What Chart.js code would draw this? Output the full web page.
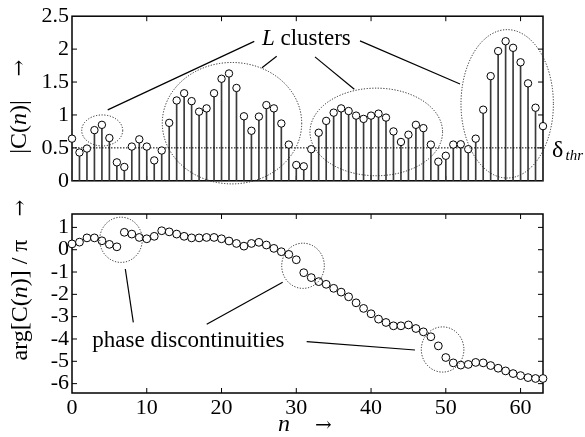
<!DOCTYPE html>
<html>
<head>
<meta charset="utf-8">
<script src="https://cdn.jsdelivr.net/npm/chart.js@4.4.0/dist/chart.umd.min.js"></script>
<style>
  html, body { margin: 0; padding: 0; background: #fff; }
  #wrap { position: relative; width: 585px; height: 437px; }
  canvas { position: absolute; left: 0; }
  #magCanvas { top: 0; }
  #phaseCanvas { top: 197px; }
</style>
</head>
<body>
<div id="wrap">
  <canvas id="magCanvas" width="585" height="197"></canvas>
  <canvas id="phaseCanvas" width="585" height="240"></canvas>
</div>
<script>
// sample index n
const nIdx = [0, 1, 2, 3, 4, 5, 6, 7, 8, 9, 10, 11, 12, 13, 14, 15,
  16, 17, 18, 19, 20, 21, 22, 23, 24, 25, 26, 27, 28, 29, 30, 31,
  32, 33, 34, 35, 36, 37, 38, 39, 40, 41, 42, 43, 44, 45, 46, 47,
  48, 49, 50, 51, 52, 53, 54, 55, 56, 57, 58, 59, 60, 61, 62, 63];

// |C(n)|
const magnitude = [0.64, 0.43, 0.49, 0.77, 0.85, 0.65, 0.28, 0.21, 0.52, 0.63, 0.52, 0.31, 0.46, 0.88, 1.22, 1.33,
  1.21, 1.05, 1.10, 1.33, 1.55, 1.63, 1.41, 0.98, 0.76, 0.975, 1.15, 1.10, 0.87, 0.55, 0.24, 0.22,
  0.48, 0.73, 0.91, 1.035, 1.10, 1.06, 0.99, 0.94, 0.99, 1.02, 0.96, 0.75, 0.59, 0.70, 0.85, 0.80,
  0.55, 0.29, 0.38, 0.55, 0.555, 0.48, 0.64, 1.08, 1.59, 1.97, 2.12, 2.02, 1.80, 1.48, 1.11, 0.83];

// arg[C(n)] / pi (unwrapped)
const phase = [0.26, 0.34, 0.53, 0.53, 0.40, 0.24, 0.13, 0.78, 0.70, 0.55, 0.49, 0.60, 0.85, 0.80, 0.70, 0.60,
  0.53, 0.53, 0.55, 0.55, 0.49, 0.39, 0.28, 0.16, 0.28, 0.33, 0.21, 0.06, -0.09, -0.21, -0.45, -1.03,
  -1.25, -1.43, -1.55, -1.73, -1.90, -2.11, -2.38, -2.63, -2.87, -3.11, -3.26, -3.41, -3.41, -3.37, -3.53, -3.68,
  -3.90, -4.31, -4.83, -5.07, -5.17, -5.14, -5.05, -5.07, -5.19, -5.31, -5.43, -5.55, -5.64, -5.73, -5.77, -5.77];

const THRESHOLD = 0.5;

const nTicks = [0, 10, 20, 30, 40, 50, 60];
const magTicks = [0, 0.5, 1, 1.5, 2, 2.5];
const phaseTicks = [-6, -5, -4, -3, -2, -1, 0, 1];

const SERIF = "'Liberation Serif', 'Times New Roman', serif";
const ARROW_FONT = "'DejaVu Serif', serif";

Chart.defaults.font.family = SERIF;
Chart.defaults.font.size = 22;
Chart.defaults.color = '#000';

// draw a row of text pieces, some of them italic
function drawRuns(ctx, runs, x, y, size) {
  let cx = x;
  runs.forEach(r => {
    ctx.font = (r.it ? 'italic ' : '') + (r.size || size) + 'px ' + (r.fam || SERIF);
    ctx.fillText(r.t, cx, y);
    cx += ctx.measureText(r.t).width;
  });
  return cx - x;
}
function runsWidth(ctx, runs, size) {
  let w = 0;
  runs.forEach(r => {
    ctx.font = (r.it ? 'italic ' : '') + (r.size || size) + 'px ' + (r.fam || SERIF);
    w += ctx.measureText(r.t).width;
  });
  return w;
}
function vertText(ctx, runs, cx, cy, size) {
  ctx.save();
  ctx.translate(cx, cy);
  ctx.rotate(-Math.PI / 2);
  ctx.textBaseline = 'middle';
  const w = runsWidth(ctx, runs, size);
  drawRuns(ctx, runs, -w / 2, 0, size);
  ctx.restore();
}

// box + inward ticks on all four sides
const frameTicks = {
  id: 'frameTicks',
  beforeDatasetsDraw(chart, args, opts) {
    const { ctx, chartArea: a, scales: { x, y } } = chart;
    ctx.save();
    ctx.strokeStyle = '#000';
    ctx.lineWidth = 1;
    const L = 5;
    opts.xt.forEach(v => {
      const px = x.getPixelForValue(v);
      if (px <= a.left + 1 || px >= a.right - 1) return;
      ctx.beginPath();
      ctx.moveTo(px, a.bottom); ctx.lineTo(px, a.bottom - L);
      ctx.moveTo(px, a.top); ctx.lineTo(px, a.top + L);
      ctx.stroke();
    });
    opts.yt.forEach(v => {
      const py = y.getPixelForValue(v);
      if (py <= a.top + 1 || py >= a.bottom - 1) return;
      ctx.beginPath();
      ctx.moveTo(a.left, py); ctx.lineTo(a.left + L, py);
      ctx.moveTo(a.right, py); ctx.lineTo(a.right - L, py);
      ctx.stroke();
    });
    ctx.lineWidth = 1.5;
    ctx.strokeRect(a.left, a.top, a.right - a.left, a.bottom - a.top);
    ctx.restore();
  }
};

// cluster rings and labels on the magnitude plot
const magNotes = {
  id: 'magNotes',
  afterDatasetsDraw(chart) {
    const { ctx, scales: { x, y } } = chart;
    const P = (n, v) => [x.getPixelForValue(n), y.getPixelForValue(v)];
    ctx.save();
    ctx.strokeStyle = '#222';
    ctx.lineWidth = 1;
    ctx.setLineDash([1.2, 1.6]);
    [[4.04, 0.765, 20.5, 15.5], [21.40, 0.875, 69.7, 60.7], [40.70, 0.742, 66.3, 43.8], [58.21, 1.169, 46.2, 74.2]]
      .forEach(([n, v, rx, ry]) => {
        const [cx, cy] = P(n, v);
        ctx.beginPath(); ctx.ellipse(cx, cy, rx, ry, 0, 0, 2 * Math.PI); ctx.stroke();
      });
    ctx.setLineDash([]);
    ctx.strokeStyle = '#000';
    ctx.lineWidth = 1.2;
    [[24.38, 2.117, 4.78, 1.077], [27.38, 1.892, 25.41, 1.718], [32.50, 1.882, 37.76, 1.390], [38.52, 2.125, 51.90, 1.470]]
      .forEach(([n1, v1, n2, v2]) => {
        const [x1, y1] = P(n1, v1), [x2, y2] = P(n2, v2);
        ctx.beginPath(); ctx.moveTo(x1, y1); ctx.lineTo(x2, y2); ctx.stroke();
      });
    ctx.fillStyle = '#000';
    ctx.textBaseline = 'alphabetic';
    let [tx, ty] = P(25.41, 2.069);
    drawRuns(ctx, [{ t: 'L', it: true }, { t: ' clusters' }], tx, ty, 23);
    [tx, ty] = P(64.21, 0.365);
    drawRuns(ctx, [{ t: 'δ' }], tx, ty, 24);
    [tx, ty] = P(66.01, 0.309);
    drawRuns(ctx, [{ t: 'thr', it: true }], tx, ty, 15);
    // y title
    vertText(ctx, [{ t: '|C(' }, { t: 'n', it: true }, { t: ')|' }], 20, 127, 24);
    vertText(ctx, [{ t: '→', fam: ARROW_FONT }], 20, 68, 20);
    ctx.restore();
  }
};

// discontinuity rings and labels on the phase plot
const phaseNotes = {
  id: 'phaseNotes',
  afterDatasetsDraw(chart) {
    const { ctx, scales: { x, y } } = chart;
    const P = (n, v) => [x.getPixelForValue(n), y.getPixelForValue(v)];
    ctx.save();
    ctx.strokeStyle = '#222';
    ctx.lineWidth = 1;
    ctx.setLineDash([1.2, 1.6]);
    [[6.55, 0.444], [30.90, -0.721], [49.57, -4.471]].forEach(([n, v]) => {
      const [cx, cy] = P(n, v);
      ctx.beginPath(); ctx.ellipse(cx, cy, 21.3, 22.6, 0, 0, 2 * Math.PI); ctx.stroke();
    });
    ctx.setLineDash([]);
    ctx.strokeStyle = '#000';
    ctx.lineWidth = 1.2;
    [[8.20, -3.253, 7.13, -0.865], [18.02, -3.342, 28.18, -1.461], [31.39, -4.122, 45.88, -4.493]]
      .forEach(([n1, v1, n2, v2]) => {
        const [x1, y1] = P(n1, v1), [x2, y2] = P(n2, v2);
        ctx.beginPath(); ctx.moveTo(x1, y1); ctx.lineTo(x2, y2); ctx.stroke();
      });
    ctx.fillStyle = '#000';
    ctx.textBaseline = 'alphabetic';
    const [tx, ty] = P(2.71, -4.346);
    drawRuns(ctx, [{ t: 'phase discontinuities' }], tx, ty, 23);
    // y title
    vertText(ctx, [{ t: 'arg[C(' }, { t: 'n', it: true }, { t: ')] / π' }], 21, 103, 24);
    vertText(ctx, [{ t: '→', fam: ARROW_FONT }], 21, 11, 20);
    // x title
    ctx.textBaseline = 'middle';
    drawRuns(ctx, [{ t: 'n', it: true }], 278, 228, 24);
    drawRuns(ctx, [{ t: '→', fam: ARROW_FONT }], 315, 229, 20);
    ctx.restore();
  }
};

const tickFont = { family: SERIF, size: 22 };

new Chart(document.getElementById('magCanvas'), {
  type: 'bar',
  data: {
    datasets: [
      {
        type: 'line',
        data: nIdx.map((n, i) => ({ x: n, y: magnitude[i] })),
        showLine: false,
        pointRadius: 3.7,
        pointBorderWidth: 1,
        pointBackgroundColor: '#fff',
        pointBorderColor: '#000',
        clip: false,
        order: 0
      },
      {
        type: 'line',
        data: [{ x: nIdx[0], y: THRESHOLD }, { x: nIdx[nIdx.length - 1], y: THRESHOLD }],
        borderColor: '#000',
        borderWidth: 1,
        borderDash: [1.5, 1.5],
        pointRadius: 0,
        order: 1
      },
      {
        type: 'bar',
        data: nIdx.map((n, i) => ({ x: n, y: magnitude[i] })),
        backgroundColor: '#3a3a3a',
        barThickness: 1,
        order: 2
      }
    ]
  },
  options: {
    responsive: false,
    animation: false,
    devicePixelRatio: 1,
    layout: { padding: { top: 16, right: 42, bottom: 3, left: 0 } },
    plugins: {
      legend: { display: false },
      tooltip: { enabled: false },
      frameTicks: { xt: nTicks, yt: magTicks }
    },
    scales: {
      x: { type: 'linear', min: 0, max: 63, offset: false, display: false },
      y: {
        min: 0, max: 2.5,
        afterFit: s => { s.width = 72; },
        afterBuildTicks: s => { s.ticks = magTicks.map(v => ({ value: v })); },
        grid: { display: false, drawTicks: false },
        border: { display: false },
        ticks: { font: tickFont, color: '#000', padding: 3, autoSkip: false, callback: v => String(v) }
      }
    }
  },
  plugins: [frameTicks, magNotes]
});

new Chart(document.getElementById('phaseCanvas'), {
  type: 'line',
  data: {
    datasets: [{
      data: nIdx.map((n, i) => ({ x: n, y: phase[i] })),
      showLine: false,
      pointRadius: 3.9,
      pointBorderWidth: 1,
      pointBackgroundColor: '#fff',
      pointBorderColor: '#000',
      clip: false
    }]
  },
  options: {
    responsive: false,
    animation: false,
    devicePixelRatio: 1,
    layout: { padding: { top: 17, right: 42, bottom: 0, left: 0 } },
    plugins: {
      legend: { display: false },
      tooltip: { enabled: false },
      frameTicks: { xt: nTicks, yt: phaseTicks }
    },
    scales: {
      x: {
        type: 'linear', min: 0, max: 63,
        afterFit: s => { s.height = 44; },
        afterBuildTicks: s => { s.ticks = nTicks.map(v => ({ value: v })); },
        grid: { display: false, drawTicks: false },
        border: { display: false },
        ticks: { font: tickFont, color: '#000', padding: 2, maxRotation: 0, autoSkip: false, callback: v => String(v) }
      },
      y: {
        min: -6.42, max: 1.6,
        afterFit: s => { s.width = 72; },
        afterBuildTicks: s => { s.ticks = phaseTicks.map(v => ({ value: v })); },
        grid: { display: false, drawTicks: false },
        border: { display: false },
        ticks: { font: tickFont, color: '#000', padding: 3, autoSkip: false, callback: v => String(v) }
      }
    }
  },
  plugins: [frameTicks, phaseNotes]
});
</script>
</body>
</html>
